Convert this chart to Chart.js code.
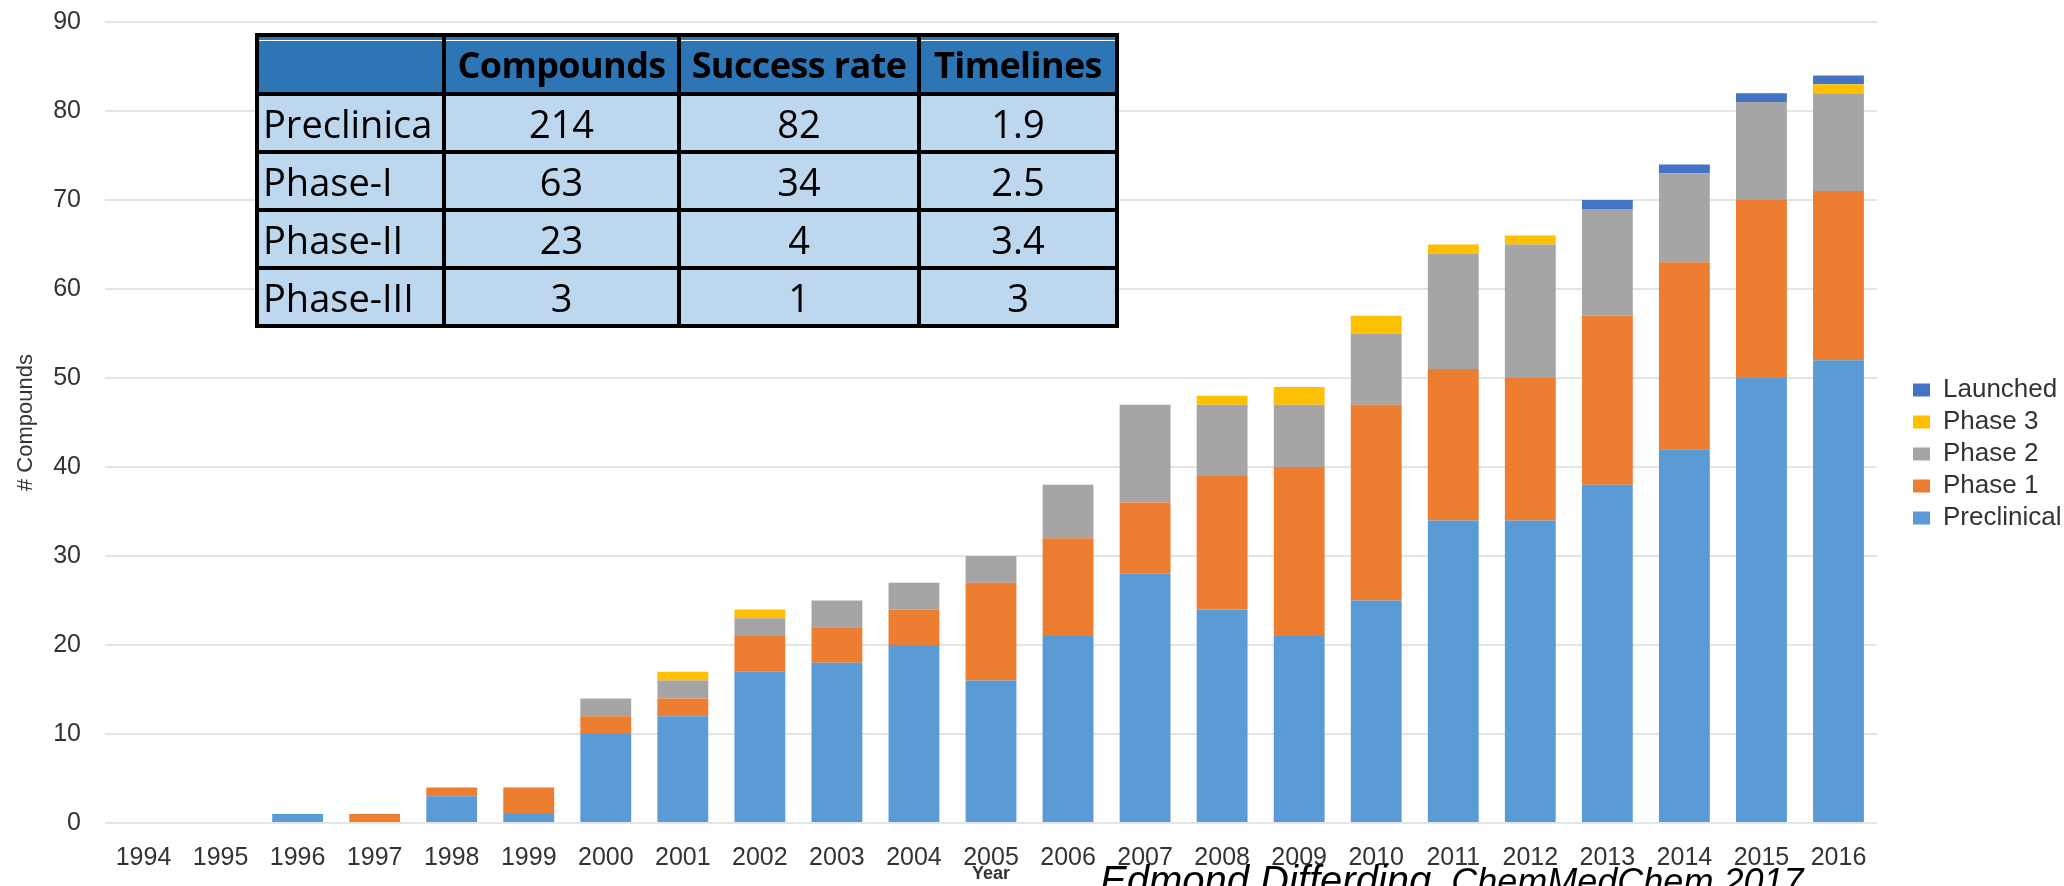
<!DOCTYPE html>
<html>
<head>
<meta charset="utf-8">
<script src="https://cdn.jsdelivr.net/npm/chart.js@4.4.1/dist/chart.umd.min.js"></script>
<style>
  html, body { margin: 0; padding: 0; background: #fff; }
  #wrap { position: relative; width: 2064px; height: 886px; overflow: hidden; }
  #wrap canvas { position: absolute; left: 0; top: 0; }
  #phaseTable {
    position: absolute; left: 255px; top: 33px; width: 860px;
    border-collapse: collapse; table-layout: fixed;
    font-family: "Open Sans", sans-serif; color: #000; line-height: 1;
  }
  #phaseTable th, #phaseTable td {
    border: 4px solid #000; padding: 0; overflow: hidden;
    white-space: nowrap; text-align: center;
  }
  #phaseTable tr.head { height: 59px; }
  #phaseTable tr.body { height: 58px; }
  #phaseTable th {
    background: #2e75b6; font-weight: 700; font-size: 36px; letter-spacing: -0.6px;
    box-shadow: inset 0 3px 0 #2e75b6, inset 0 4px 0 #fff;
  }
  #phaseTable td { background: #bdd7ee; font-size: 38px; }
  #phaseTable td.rowname { text-align: left; padding-left: 4px; }
</style>
</head>
<body>
<div id="wrap">
  <canvas id="pipelineChart"></canvas>
  <table id="phaseTable">
    <colgroup><col style="width:187px"><col style="width:235px"><col style="width:240px"><col style="width:198px"></colgroup>
    <thead></thead>
    <tbody></tbody>
  </table>
</div>
<script>
// ---- datos ----
const years = ['1994','1995','1996','1997','1998','1999','2000','2001','2002','2003','2004','2005',
               '2006','2007','2008','2009','2010','2011','2012','2013','2014','2015','2016'];

const preclinical = [0, 0, 1, 0, 3, 1, 10, 12, 17, 18, 20, 16, 21, 28, 24, 21, 25, 34, 34, 38, 42, 50, 52];
const phase1      = [0, 0, 0, 1, 1, 3,  2,  2,  4,  4,  4, 11, 11,  8, 15, 19, 22, 17, 16, 19, 21, 20, 19];
const phase2      = [0, 0, 0, 0, 0, 0,  2,  2,  2,  3,  3,  3,  6, 11,  8,  7,  8, 13, 15, 12, 10, 11, 11];
const phase3      = [0, 0, 0, 0, 0, 0,  0,  1,  1,  0,  0,  0,  0,  0,  1,  2,  2,  1,  1,  0,  0,  0,  1];
const launched    = [0, 0, 0, 0, 0, 0,  0,  0,  0,  0,  0,  0,  0,  0,  0,  0,  0,  0,  0,  1,  1,  1,  1];

// tabla de fases
const tableHeader = ['', 'Compounds', 'Success rate', 'Timelines'];
const tablePhases = ['Preclinica', 'Phase-I', 'Phase-II', 'Phase-III'];
const tableCompounds = ['214', '63', '23', '3'];
const tableSuccess = ['82', '34', '4', '1'];
const tableTimelines = ['1.9', '2.5', '3.4', '3'];

const citeAuthor = 'Edmond Differding';
const citeJournal = ', ChemMedChem 2017';

// ---- tabla ----
const thead = document.querySelector('#phaseTable thead');
const tbody = document.querySelector('#phaseTable tbody');
thead.innerHTML = '<tr class="head">' + tableHeader.map(h => `<th>${h}</th>`).join('') + '</tr>';
tablePhases.forEach((p, i) => {
  tbody.innerHTML += `<tr class="body"><td class="rowname">${p}</td><td>${tableCompounds[i]}</td>` +
                     `<td>${tableSuccess[i]}</td><td>${tableTimelines[i]}</td></tr>`;
});

// ---- grafico ----
Chart.defaults.font.family = '"Liberation Sans", Arial, sans-serif';
Chart.defaults.color = '#333';

// cita abajo a la derecha
const citation = {
  id: 'citation',
  afterDraw(chart) {
    const c = chart.ctx;
    c.save();
    c.fillStyle = '#000';
    c.textBaseline = 'alphabetic';
    c.font = 'italic 40px "Liberation Sans"';
    c.fillText(citeAuthor, 1100, 894);
    const w = c.measureText(citeAuthor).width;
    c.font = 'italic 36px "Liberation Sans"';
    c.fillText(citeJournal, 1100 + w, 894);
    c.restore();
  }
};

const ctx = document.getElementById('pipelineChart').getContext('2d');
document.getElementById('pipelineChart').parentNode.style.height = '886px';

const bar = (label, data, color) => ({
  label, data, yAxisID: 'y',
  backgroundColor: color, borderWidth: 0,
  categoryPercentage: 1, barPercentage: 0.66
});

new Chart(ctx, {
  type: 'bar',
  data: {
    labels: years,
    datasets: [
      bar('Preclinical', preclinical, '#5b9bd5'),
      bar('Phase 1', phase1, '#ed7d31'),
      bar('Phase 2', phase2, '#a5a5a5'),
      bar('Phase 3', phase3, '#ffc000'),
      bar('Launched', launched, '#4472c4')
    ]
  },
  options: {
    responsive: true,
    maintainAspectRatio: false,
    animation: false,
    layout: { padding: { top: 22, left: 0, right: 0, bottom: 0 } },
    plugins: {
      tooltip: { enabled: false },
      legend: {
        position: 'right',
        reverse: true,
        maxWidth: 157,
        labels: {
          boxWidth: 17,
          boxHeight: 13,
          padding: 6,
          color: '#333',
          font: { size: 26 }
        }
      }
    },
    scales: {
      x: {
        stacked: true,
        grid: { display: false },
        border: { display: false },
        ticks: { padding: 12, color: '#333', font: { size: 25 }, maxRotation: 0, autoSkip: false },
        title: { display: true, text: 'Year', color: '#333', font: { size: 18, weight: 'bold' }, padding: { top: 0, bottom: 1 } },
        afterFit: s => { s.height = 63; }
      },
      y: {
        stacked: true,
        min: 0,
        max: 90,
        grid: { color: '#e4e4e4', lineWidth: 2, drawTicks: true, tickLength: 21, tickColor: 'rgba(0,0,0,0)' },
        border: { display: false },
        ticks: { stepSize: 10, padding: 3, color: '#333', font: { size: 25 } },
        title: { display: true, text: '# Compounds', color: '#333', font: { size: 22 }, padding: { top: 13, bottom: 0 } },
        afterFit: s => { s.width = 105; }
      },
      y2: {
        position: 'right',
        grid: { display: false },
        border: { display: false },
        ticks: { display: false },
        afterFit: s => { s.width = 30; }
      }
    }
  },
  plugins: [citation]
});
</script>
</body>
</html>
